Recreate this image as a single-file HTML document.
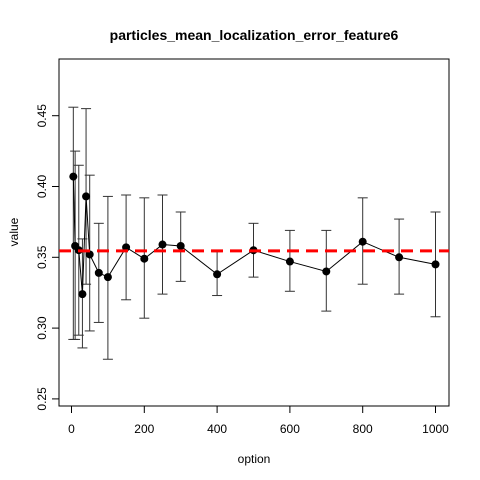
<!DOCTYPE html>
<html><head><meta charset="utf-8"><style>body{margin:0;background:#fff}svg{display:block;font-family:"Liberation Sans",sans-serif}</style></head>
<body>
<svg id="c" width="480" height="480">
<rect x="0" y="0" width="480" height="480" fill="#fff"/>
</svg>
<script>
const options=[5,10,20,30,40,50,75,100,150,200,250,300,400,500,600,700,800,900,1000];
const means=[0.407,0.358,0.355,0.324,0.393,0.352,0.339,0.336,0.357,0.349,0.359,0.358,0.338,0.355,0.347,0.340,0.361,0.350,0.345];
const upper=[0.456,0.425,0.415,0.363,0.455,0.408,0.374,0.393,0.394,0.392,0.394,0.382,0.354,0.374,0.369,0.369,0.392,0.377,0.382];
const lower=[0.292,0.292,0.295,0.286,0.331,0.298,0.304,0.278,0.320,0.307,0.324,0.333,0.323,0.336,0.326,0.312,0.331,0.324,0.308];
const refLine=0.3545;
const xTicks=[0,200,400,600,800,1000];
const yTicks=[0.25,0.30,0.35,0.40,0.45];
const title="particles_mean_localization_error_feature6";
const svg=document.getElementById('c');const NS='http://www.w3.org/2000/svg';
const X=v=>71.5+v*0.364;const Y=v=>257.3-(v-0.35)*1416;
function mk(t,a,p){const e=document.createElementNS(NS,t);for(const k in a)e.setAttribute(k,a[k]);(p||svg).appendChild(e);return e;}
let e;
e=mk('rect',{x:59,y:59,width:390,height:347,fill:'none',stroke:'#000','stroke-width':1});


xTicks.forEach(t=>{mk('line',{x1:X(t),x2:X(t),y1:406,y2:413,stroke:'#000'});
e=mk('text',{x:X(t),y:433,'text-anchor':'middle','font-size':12});e.textContent=t;

});
mk('line',{x1:X(0),x2:X(1000),y1:406,y2:406,stroke:'#000'});
yTicks.forEach(t=>{mk('line',{x1:52,x2:59,y1:Y(t),y2:Y(t),stroke:'#000'});
e=mk('text',{x:0,y:0,'text-anchor':'middle','font-size':12,transform:`translate(46,${Y(t)}) rotate(-90)`});e.textContent=t.toFixed(2);

});
mk('line',{x1:59,x2:59,y1:Y(0.25),y2:Y(0.45),stroke:'#000'});
e=mk('text',{x:254,y:40,'text-anchor':'middle','font-size':14,'font-weight':'bold'});e.textContent=title;


e=mk('text',{x:254,y:463,'text-anchor':'middle','font-size':12});e.textContent='option';


e=mk('text',{x:0,y:0,'text-anchor':'middle','font-size':12,transform:'translate(18,232) rotate(-90)'});e.textContent='value';


options.forEach((o,i)=>{const x=X(o);
mk('line',{x1:x,x2:x,y1:Y(upper[i]),y2:Y(lower[i]),stroke:'#333'});
mk('line',{x1:x-5,x2:x+5,y1:Y(upper[i]),y2:Y(upper[i]),stroke:'#333'});
mk('line',{x1:x-5,x2:x+5,y1:Y(lower[i]),y2:Y(lower[i]),stroke:'#333'});});
e=mk('polyline',{points:options.map((o,i)=>X(o)+','+Y(means[i])).join(' '),fill:'none',stroke:'#000'});


options.forEach((o,i)=>{e=mk('circle',{cx:X(o),cy:Y(means[i]),r:4,fill:'#000'});

});
e=mk('line',{x1:59,x2:449,y1:Y(refLine),y2:Y(refLine),stroke:'#f00','stroke-width':3,'stroke-dasharray':'12,7'});


</script>
</body></html>
